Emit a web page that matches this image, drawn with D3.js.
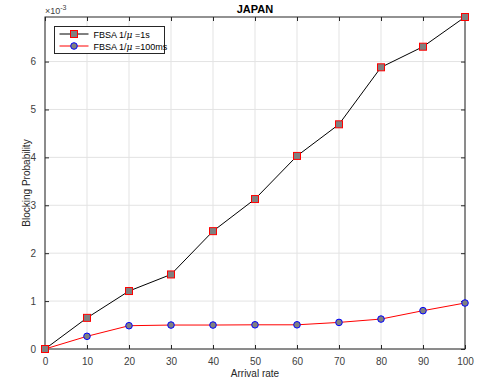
<!DOCTYPE html>
<html>
<head>
<meta charset="utf-8">
<script src="https://cdn.jsdelivr.net/npm/d3@7"></script>
<style>
  body { margin: 0; background: #fff; }
  svg { font-family: "Liberation Sans", Arial, sans-serif; }
</style>
</head>
<body>
<svg id="chart" width="481" height="381"></svg>
<script>
// arrival rate on x, blocking probability (x10^-3) on y
const arrivalRate = [0, 10, 20, 30, 40, 50, 60, 70, 80, 90, 100];
const fbsa1s = [0.0, 0.65, 1.21, 1.556, 2.46, 3.13, 4.03, 4.69, 5.88, 6.31, 6.93];
const fbsa100ms = [0.0, 0.265, 0.486, 0.5, 0.5, 0.505, 0.505, 0.555, 0.625, 0.8, 0.96];
const xTicks = [0, 10, 20, 30, 40, 50, 60, 70, 80, 90, 100];
const yTicks = [0, 1, 2, 3, 4, 5, 6];

const svg = d3.select("#chart");
const margin = { top: 17, right: 16, bottom: 32, left: 45 };
const width = 481 - margin.left - margin.right;
const height = 381 - margin.top - margin.bottom;
const axisColor = "#262626";

const g = svg.append("g").attr("transform", `translate(${margin.left},${margin.top})`);

const x = d3.scaleLinear().domain([0, 100]).range([0, width]);
const y = d3.scaleLinear().domain([0, 6.93]).range([height, 0]);

// grid
g.append("g")
  .selectAll("line.vg")
  .data(xTicks)
  .enter()
  .append("line")
  .attr("x1", d => x(d)).attr("x2", d => x(d))
  .attr("y1", 0).attr("y2", height)
  .attr("stroke", "#e3e3e3").attr("stroke-width", 1);
g.append("g")
  .selectAll("line.hg")
  .data(yTicks)
  .enter()
  .append("line")
  .attr("x1", 0).attr("x2", width)
  .attr("y1", d => y(d)).attr("y2", d => y(d))
  .attr("stroke", "#e3e3e3").attr("stroke-width", 1);

// axes with inward ticks
function styleAxis(sel) {
  sel.select(".domain").remove();
  sel.selectAll(".tick line").attr("stroke", axisColor);
  sel.selectAll(".tick text").attr("fill", "#404040").style("font-size", "10px");
}
g.append("g")
  .attr("transform", `translate(0,${height})`)
  .call(d3.axisBottom(x).tickValues(xTicks).tickSizeInner(-4).tickSizeOuter(0).tickPadding(9))
  .call(styleAxis);
g.append("g")
  .call(d3.axisTop(x).tickValues(xTicks).tickSizeInner(-4).tickSizeOuter(0).tickFormat(""))
  .call(styleAxis);
g.append("g")
  .call(d3.axisLeft(y).tickValues(yTicks).tickFormat(d3.format("d")).tickSizeInner(-4).tickSizeOuter(0).tickPadding(9))
  .call(styleAxis);
g.append("g")
  .attr("transform", `translate(${width},0)`)
  .call(d3.axisRight(y).tickValues(yTicks).tickSizeInner(-4).tickSizeOuter(0).tickFormat(""))
  .call(styleAxis);

// box
g.append("rect")
  .attr("width", width).attr("height", height)
  .attr("fill", "none").attr("stroke", axisColor).attr("stroke-width", 1);

// lines
const line = d3.line().x((d, i) => x(arrivalRate[i])).y(d => y(d));
g.append("path").datum(fbsa100ms)
  .attr("fill", "none").attr("stroke", "#ff0000").attr("stroke-width", 1)
  .attr("d", line);
g.append("path").datum(fbsa1s)
  .attr("fill", "none").attr("stroke", "#000000").attr("stroke-width", 1)
  .attr("d", line);

// markers
g.selectAll(".circ")
  .data(fbsa100ms)
  .enter()
  .append("circle")
  .attr("class", "circ")
  .attr("cx", (d, i) => x(arrivalRate[i]))
  .attr("cy", d => y(d))
  .attr("r", 3.3)
  .attr("fill", "#808080").attr("stroke", "#0000ff").attr("stroke-width", 1);
g.selectAll(".sq")
  .data(fbsa1s)
  .enter()
  .append("rect")
  .attr("class", "sq")
  .attr("x", (d, i) => x(arrivalRate[i]) - 3.5)
  .attr("y", d => y(d) - 3.5)
  .attr("width", 7).attr("height", 7)
  .attr("fill", "#808080").attr("stroke", "#ff0000").attr("stroke-width", 1);

// title, labels, exponent
svg.append("text")
  .attr("x", margin.left + width / 2).attr("y", 13)
  .attr("text-anchor", "middle")
  .style("font-size", "11px").style("font-weight", "bold")
  .attr("fill", "#000").text("JAPAN");
svg.append("text")
  .attr("x", margin.left + width / 2).attr("y", 377)
  .attr("text-anchor", "middle")
  .style("font-size", "10px").attr("fill", axisColor)
  .text("Arrival rate");
svg.append("text")
  .attr("transform", `translate(30,${margin.top + height / 2}) rotate(-90)`)
  .attr("text-anchor", "middle")
  .style("font-size", "10px").attr("fill", axisColor)
  .text("Blocking Probability");
const expo = svg.append("text")
  .attr("x", 45).attr("y", 14)
  .style("font-size", "9px").attr("fill", "#404040");
expo.append("tspan").text("\u00d710");
expo.append("tspan").attr("dy", -4).style("font-size", "7px").text("-3");

// legend
const legend = svg.append("g").attr("transform", "translate(54.5,26.5)");
legend.append("rect")
  .attr("width", 110).attr("height", 27)
  .attr("fill", "#fff").attr("stroke", axisColor).attr("stroke-width", 1);
const entries = [
  { label: "=1s", color: "#000000", marker: "square" },
  { label: "=100ms", color: "#ff0000", marker: "circle" }
];
entries.forEach((e, i) => {
  const row = legend.append("g").attr("transform", `translate(0,${7.5 + i * 12})`);
  row.append("line").attr("x1", 5).attr("x2", 34)
    .attr("stroke", e.color).attr("stroke-width", 1);
  if (e.marker === "square") {
    row.append("rect").attr("x", 16).attr("y", -3.5).attr("width", 7).attr("height", 7)
      .attr("fill", "#808080").attr("stroke", "#ff0000");
  } else {
    row.append("circle").attr("cx", 19.5).attr("r", 3.3)
      .attr("fill", "#808080").attr("stroke", "#0000ff");
  }
  const t = row.append("text").attr("x", 39).attr("y", 3.5)
    .style("font-size", "9px").attr("fill", "#000");
  t.append("tspan").text("FBSA 1/");
  t.append("tspan").style("font-family", "'DejaVu Serif', serif").style("font-style", "italic").text("\u03bc");
  t.append("tspan").text(" " + e.label);
});
</script>
</body>
</html>
